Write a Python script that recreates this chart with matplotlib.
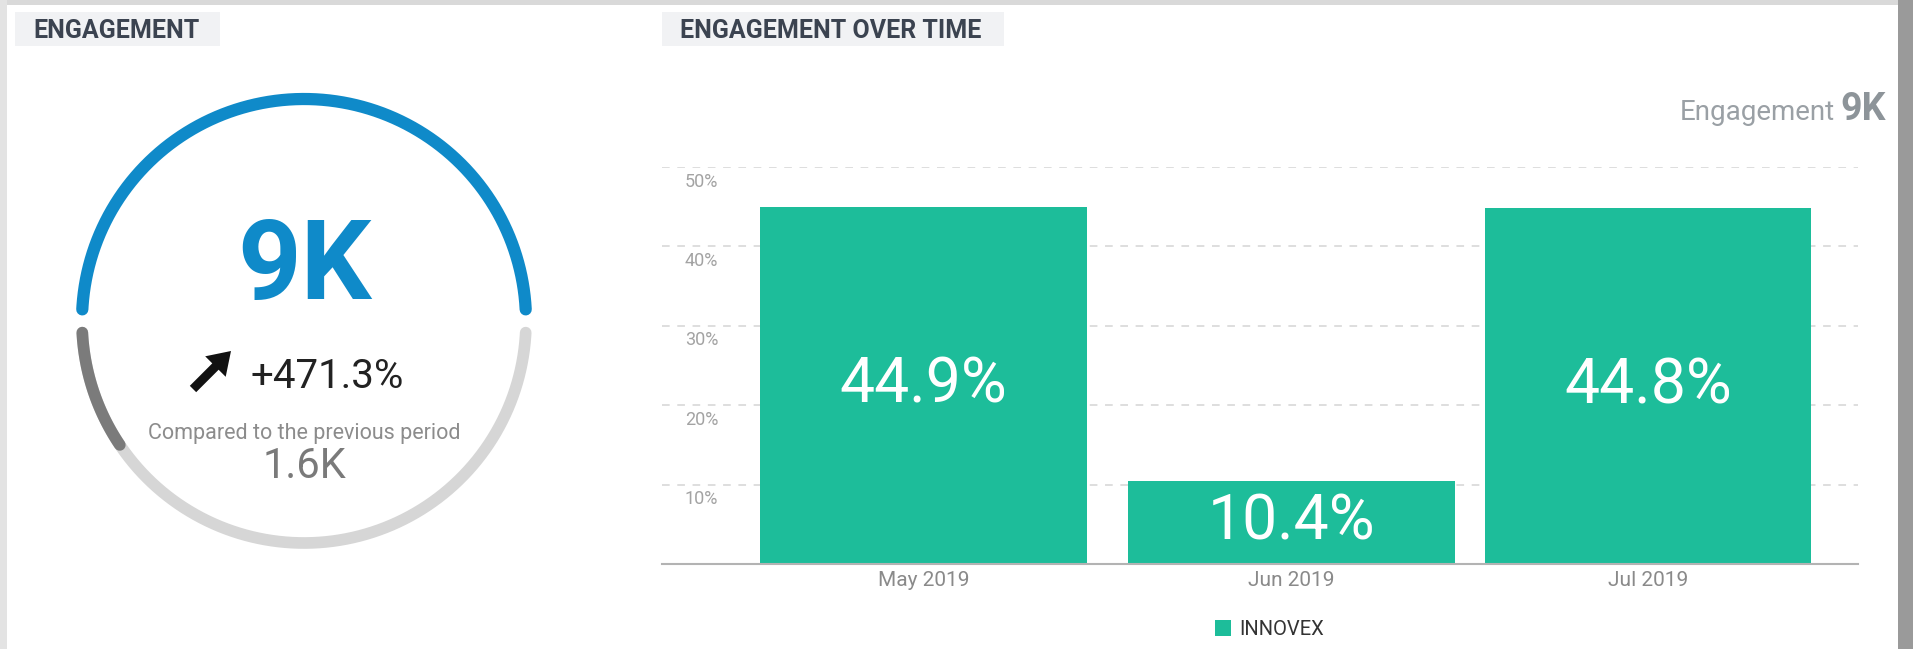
import numpy as np
import pandas as pd
import matplotlib
matplotlib.use('Agg')
import matplotlib.pyplot as plt
from matplotlib.patches import Rectangle, FancyArrow
from matplotlib.transforms import blended_transform_factory, ScaledTranslation

# engagement totals, in thousands
engagement_now = 9.0
engagement_prev = 1.6
change_pct = 471.3

# monthly share of engagement
months = pd.to_datetime(['2019-05-01', '2019-06-01', '2019-07-01'])
month_share = [44.9, 10.4, 44.8]
series_name = 'INNOVEX'
y_ticks = [10, 20, 30, 40, 50]

BLUE = '#0f8ac9'
TEAL = '#1dbd9a'
NARROW = ['Liberation Sans Narrow', 'Roboto', 'DejaVu Sans']
ROBOTO = ['Roboto', 'DejaVu Sans']

W, H = 1913, 649
fig = plt.figure(figsize=(W / 100, H / 100), dpi=100)
fig.patch.set_facecolor('white')

# full-figure layer in pixel units for frame, headers and gauge
bg = fig.add_axes([0, 0, 1, 1])
bg.set_xlim(0, W)
bg.set_ylim(H, 0)
bg.axis('off')

bg.add_patch(Rectangle((0, 0), W, 5, color='#d9d9d9', lw=0))
bg.add_patch(Rectangle((0, 0), 7, H, color='#e3e3e3', lw=0))
bg.add_patch(Rectangle((1898, 0), 15, H, color='#9a9a9a', lw=0))

# section headers
for x0, w, title in [(15, 205, 'ENGAGEMENT'), (662, 342, 'ENGAGEMENT OVER TIME')]:
    bg.add_patch(Rectangle((x0, 12), w, 34, color='#f1f2f4', lw=0))
    bg.text(x0 + 18, 38, title, fontsize=18, fontweight='bold', color='#3b4350',
            family=NARROW, ha='left', va='baseline')

# gauge ring: top half = current period, bottom half = previous share
cx, cy, r = 304, 321, 222
t = np.radians(np.linspace(3, 177, 200))
bg.plot(cx + r * np.cos(t), cy - r * np.sin(t), color=BLUE, lw=8.8,
        solid_capstyle='round')
t = np.radians(np.linspace(183, 357, 200))
bg.plot(cx + r * np.cos(t), cy - r * np.sin(t), color='#d6d6d6', lw=8.4,
        solid_capstyle='round')
prev_end = 183 + 174 * engagement_prev / engagement_now
t = np.radians(np.linspace(183, prev_end, 60))
bg.plot(cx + r * np.cos(t), cy - r * np.sin(t), color='#7b7b7b', lw=8.4,
        solid_capstyle='round')

bg.text(cx, 299, f'{engagement_now:.0f}K', fontsize=80, fontweight='bold',
        color=BLUE, family=ROBOTO, ha='center', va='baseline')
bg.add_patch(FancyArrow(193, 389, 38, -38, width=9, head_width=29,
                        head_length=22, length_includes_head=True,
                        color='#111111', lw=0))
bg.text(250, 388, f'+{change_pct}%', fontsize=29, color='#222222',
        family=ROBOTO, ha='left', va='baseline')
bg.text(cx, 439, 'Compared to the previous period', fontsize=15.5,
        color='#8c8c8c', family=ROBOTO, ha='center', va='baseline')
bg.text(cx, 478, f'{engagement_prev}K', fontsize=30, color='#7a7a7a',
        family=ROBOTO, ha='center', va='baseline')

# total in the top right corner
bg.text(1886, 120, f'{engagement_now:.0f}K', fontsize=27, fontweight='bold',
        color='#8d9499', family=NARROW, ha='right', va='baseline')
bg.text(1835, 120, 'Engagement', fontsize=20, color='#9aa0a5',
        family=NARROW, ha='right', va='baseline')

# engagement over time bars
ax = fig.add_axes([662 / W, (H - 564) / H, (1858 - 662) / W, 397 / H])
ax.bar(months, month_share, width=27.5, color=TEAL, label=series_name, zorder=2)
ax.set_xlim(months[0] - pd.Timedelta(days=22.03),
            months[0] + pd.Timedelta(days=78.7))
ax.set_ylim(0, 50)

for m, v in zip(months, month_share):
    ax.text(m, v / 2, f'{v}%', ha='center', va='center', color='white',
            fontsize=45, family=NARROW, zorder=3)

# y labels sit just under their gridline
ax.set_yticks(y_ticks)
ax.tick_params(axis='y', length=0, labelleft=False)
lab_tr = blended_transform_factory(ax.transAxes, ax.transData) + \
    ScaledTranslation(0, -4 / 72, fig.dpi_scale_trans)
for v in y_ticks:
    ax.text(0.019, v, f'{v}%', transform=lab_tr, ha='left', va='top',
            fontsize=13, color='#a3a3a3', family=NARROW)
ax.yaxis.grid(True, color='#d4d4d4', linestyle=(0, (5, 5)), lw=1.1)
ax.set_axisbelow(True)

ax.set_xticks(months)
ax.set_xticklabels([m.strftime('%b %Y') for m in months])
ax.tick_params(axis='x', length=0, pad=5, labelcolor='#8a8a8a', labelsize=15)
for lbl in ax.get_xticklabels():
    lbl.set_family(NARROW)

for s in ['top', 'left', 'right']:
    ax.spines[s].set_visible(False)
ax.spines['bottom'].set_color('#b3b3b3')
ax.spines['bottom'].set_linewidth(1.5)
ax.set_facecolor('none')

ax.legend(loc='center', bbox_to_anchor=(0.508, -0.165), frameon=False,
          handlelength=0.8, handleheight=0.8, handletextpad=0.4,
          prop={'family': NARROW, 'size': 14.5}, labelcolor='#333333')

fig.savefig('out.png', dpi=100)
